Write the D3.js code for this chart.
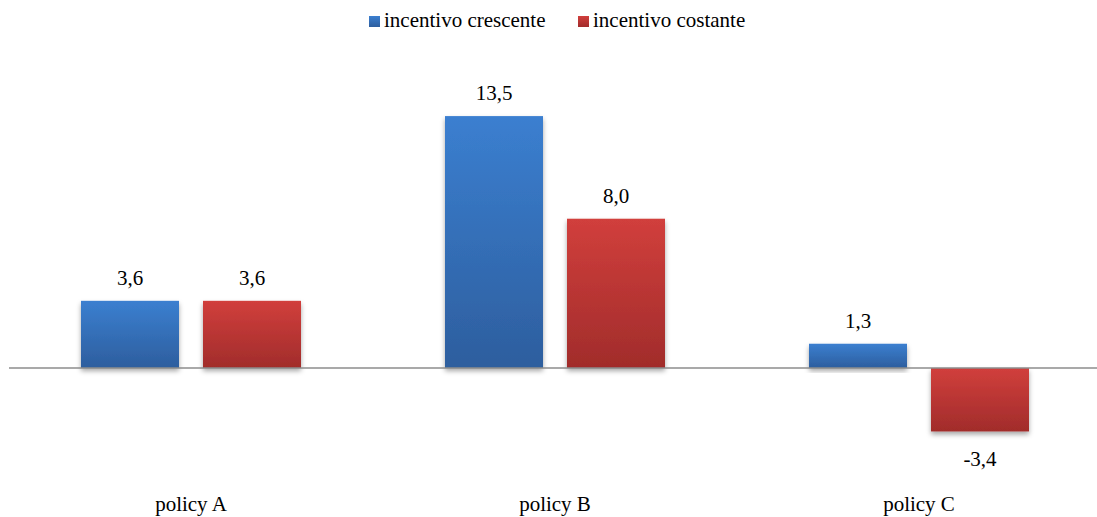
<!DOCTYPE html>
<html>
<head>
<meta charset="utf-8">
<script src="https://cdn.jsdelivr.net/npm/d3@7"></script>
<style>
  html, body { margin: 0; padding: 0; background: #fff; }
  svg { display: block; }
</style>
</head>
<body>
<svg id="chart" width="1097" height="517"></svg>
<script>
// Categories and series
const categories = ["policy A", "policy B", "policy C"];
const seriesNames = ["incentivo crescente", "incentivo costante"];
const crescente = [3.6, 13.5, 1.3];
const costante = [3.6, 8.0, -3.4];

const svg = d3.select("#chart");
const W = 1097, H = 517;
const FONT = '"Liberation Serif", "Times New Roman", Times, serif';
const FS = 21;

// Italian decimal comma, plain hyphen for negatives
const fmt = v => (v < 0 ? "-" : "") + Math.abs(v).toFixed(1).replace(".", ",");

const x0 = d3.scaleBand().domain(categories).range([9, 1101]).paddingInner(0).paddingOuter(0);
const x1 = d3.scaleBand().domain(seriesNames).range([72, 72 + 220]).paddingInner(24 / 122).paddingOuter(0);
const y = d3.scaleLinear().domain([-3.4, 13.5]).range([368 + 3.4 * 18.66, 368 - 13.5 * 18.66]);

const defs = svg.append("defs");
const grads = [
  { id: "gBlue", top: "#3b7fd0", bottom: "#2d5e9e" },
  { id: "gRed", top: "#d13f3c", bottom: "#a12c2b" }
];
grads.forEach(g => {
  const lg = defs.append("linearGradient").attr("id", g.id)
    .attr("x1", 0).attr("y1", 0).attr("x2", 0).attr("y2", 1);
  lg.append("stop").attr("offset", "0%").attr("stop-color", g.top);
  lg.append("stop").attr("offset", "100%").attr("stop-color", g.bottom);
});
const f = defs.append("filter").attr("id", "shadow")
  .attr("x", "-10%").attr("y", "-10%").attr("width", "120%").attr("height", "130%");
f.append("feDropShadow").attr("dx", 0).attr("dy", 3).attr("stdDeviation", 2.5)
  .attr("flood-color", "#000").attr("flood-opacity", 0.35);

const rows = categories.map((c, i) => ({
  cat: c,
  vals: [
    { s: seriesNames[0], v: crescente[i], fill: "url(#gBlue)" },
    { s: seriesNames[1], v: costante[i], fill: "url(#gRed)" }
  ]
}));

// Bars
const groups = svg.append("g").selectAll("g").data(rows).join("g")
  .attr("transform", d => `translate(${x0(d.cat)},0)`);

groups.selectAll("rect").data(d => d.vals).join("rect")
  .attr("x", d => x1(d.s))
  .attr("width", x1.bandwidth())
  .attr("y", d => y(Math.max(0, d.v)))
  .attr("height", d => Math.abs(y(d.v) - y(0)))
  .attr("fill", d => d.fill)
  .attr("filter", "url(#shadow)");

// Value labels
groups.selectAll("text").data(d => d.vals).join("text")
  .attr("x", d => x1(d.s) + x1.bandwidth() / 2)
  .attr("y", d => d.v >= 0 ? y(d.v) - 16 : y(d.v) + 35)
  .attr("text-anchor", "middle")
  .style("font-family", FONT)
  .style("font-size", FS + "px")
  .attr("fill", "#000")
  .text(d => fmt(d.v));

// Zero line
svg.append("line")
  .attr("x1", 9).attr("x2", W).attr("y1", y(0)).attr("y2", y(0))
  .attr("stroke", "#8c8c8c").attr("stroke-width", 1.5);

// Category labels
svg.append("g").selectAll("text").data(categories).join("text")
  .attr("x", d => x0(d) + x0.bandwidth() / 2)
  .attr("y", 511)
  .attr("text-anchor", "middle")
  .style("font-family", FONT)
  .style("font-size", FS + "px")
  .attr("fill", "#000")
  .text(d => d);

// Legend
const legend = [
  { name: seriesNames[0], fill: "url(#gBlue)", x: 369 },
  { name: seriesNames[1], fill: "url(#gRed)", x: 578 }
];
const lg = svg.append("g").selectAll("g").data(legend).join("g")
  .attr("transform", d => `translate(${d.x},0)`);
lg.append("rect").attr("x", 0).attr("y", 16).attr("width", 11).attr("height", 11).attr("fill", d => d.fill);
lg.append("text").attr("x", 15).attr("y", 27)
  .style("font-family", FONT)
  .style("font-size", FS + "px")
  .attr("fill", "#000").text(d => d.name);
</script>
</body>
</html>
